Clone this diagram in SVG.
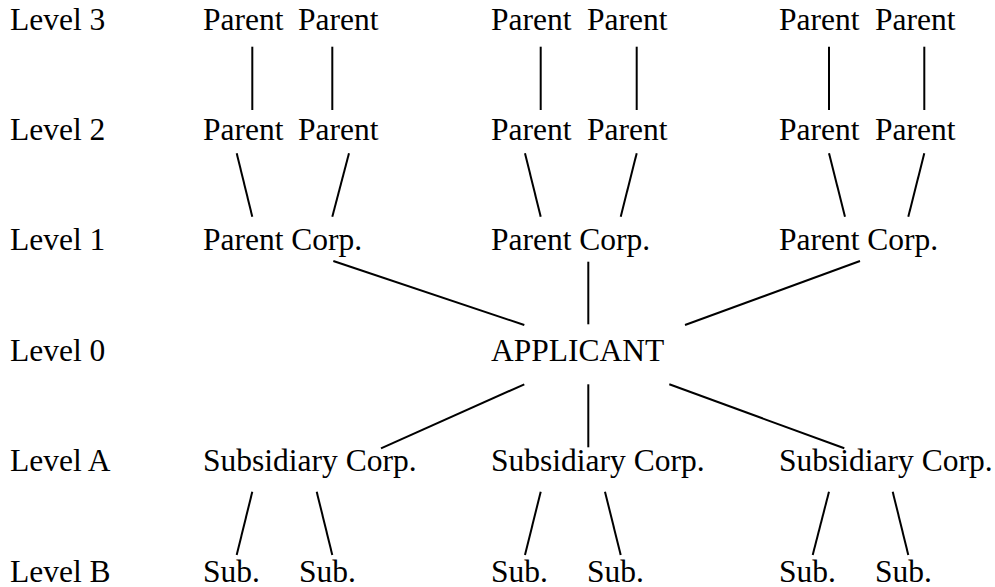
<svg xmlns="http://www.w3.org/2000/svg" width="995" height="587" viewBox="0 0 995 587">
<style>
text { font-family: "Liberation Serif", "Times New Roman", serif; font-size: 31.5px; fill: #000; }
#connectors line { stroke: #000; stroke-width: 2; stroke-linecap: butt; }
</style>
<rect width="995" height="587" fill="#fff"/>
<g id="levels">
<text x="10" y="29.5">Level 3</text>
<text x="10" y="139.9">Level 2</text>
<text x="10" y="250.3">Level 1</text>
<text x="10" y="360.7">Level 0</text>
<text x="10" y="471.1">Level A</text>
<text x="10" y="581.5">Level B</text>
</g>
<g id="p3-1a"><text x="203" y="29.5">Parent</text></g>
<g id="p3-1b"><text x="298" y="29.5">Parent</text></g>
<g id="p3-2a"><text x="491" y="29.5">Parent</text></g>
<g id="p3-2b"><text x="587" y="29.5">Parent</text></g>
<g id="p3-3a"><text x="779" y="29.5">Parent</text></g>
<g id="p3-3b"><text x="875" y="29.5">Parent</text></g>
<g id="p2-1a"><text x="203" y="139.9">Parent</text></g>
<g id="p2-1b"><text x="298" y="139.9">Parent</text></g>
<g id="p2-2a"><text x="491" y="139.9">Parent</text></g>
<g id="p2-2b"><text x="587" y="139.9">Parent</text></g>
<g id="p2-3a"><text x="779" y="139.9">Parent</text></g>
<g id="p2-3b"><text x="875" y="139.9">Parent</text></g>
<g id="pc-1"><text x="203" y="250.3">Parent Corp.</text></g>
<g id="pc-2"><text x="491" y="250.3">Parent Corp.</text></g>
<g id="pc-3"><text x="779" y="250.3">Parent Corp.</text></g>
<g id="applicant"><text x="491" y="360.7">APPLICANT</text></g>
<g id="sc-1"><text x="203" y="471.1">Subsidiary Corp.</text></g>
<g id="sc-2"><text x="491" y="471.1">Subsidiary Corp.</text></g>
<g id="sc-3"><text x="779" y="471.1">Subsidiary Corp.</text></g>
<g id="sb-1a"><text x="203" y="581.5">Sub.</text></g>
<g id="sb-1b"><text x="299" y="581.5">Sub.</text></g>
<g id="sb-2a"><text x="491" y="581.5">Sub.</text></g>
<g id="sb-2b"><text x="587" y="581.5">Sub.</text></g>
<g id="sb-3a"><text x="779" y="581.5">Sub.</text></g>
<g id="sb-3b"><text x="875" y="581.5">Sub.</text></g>
<g id="connectors">
<line x1="252.3" y1="46.7" x2="252.3" y2="110"/>
<line x1="332.3" y1="46.7" x2="332.3" y2="110"/>
<line x1="540.7" y1="46.7" x2="540.7" y2="110"/>
<line x1="636.7" y1="46.7" x2="636.7" y2="110"/>
<line x1="829" y1="46.7" x2="829" y2="110"/>
<line x1="924.3" y1="46.7" x2="924.3" y2="110"/>
<line x1="236.7" y1="153.3" x2="252.3" y2="216.7"/>
<line x1="349" y1="153.3" x2="332.3" y2="216.7"/>
<line x1="525" y1="153.3" x2="540.7" y2="216.7"/>
<line x1="636.7" y1="153.3" x2="620.7" y2="216.7"/>
<line x1="829" y1="153.3" x2="845" y2="216.7"/>
<line x1="924.3" y1="153.3" x2="908.3" y2="216.7"/>
<line x1="333.3" y1="261" x2="524.3" y2="325"/>
<line x1="588.3" y1="261.7" x2="588.3" y2="324.3"/>
<line x1="860" y1="261" x2="685" y2="325"/>
<line x1="524.3" y1="384.3" x2="381" y2="448.3"/>
<line x1="588.3" y1="384.3" x2="588.3" y2="447.3"/>
<line x1="669.3" y1="384.3" x2="844.3" y2="448.3"/>
<line x1="252.3" y1="491.7" x2="236.7" y2="555"/>
<line x1="316.7" y1="491.7" x2="332.3" y2="555"/>
<line x1="540.7" y1="491.7" x2="525" y2="555"/>
<line x1="605" y1="491.7" x2="620.7" y2="555"/>
<line x1="829" y1="491.7" x2="812.7" y2="555"/>
<line x1="892.7" y1="491.7" x2="908.3" y2="555"/>
</g>
</svg>
